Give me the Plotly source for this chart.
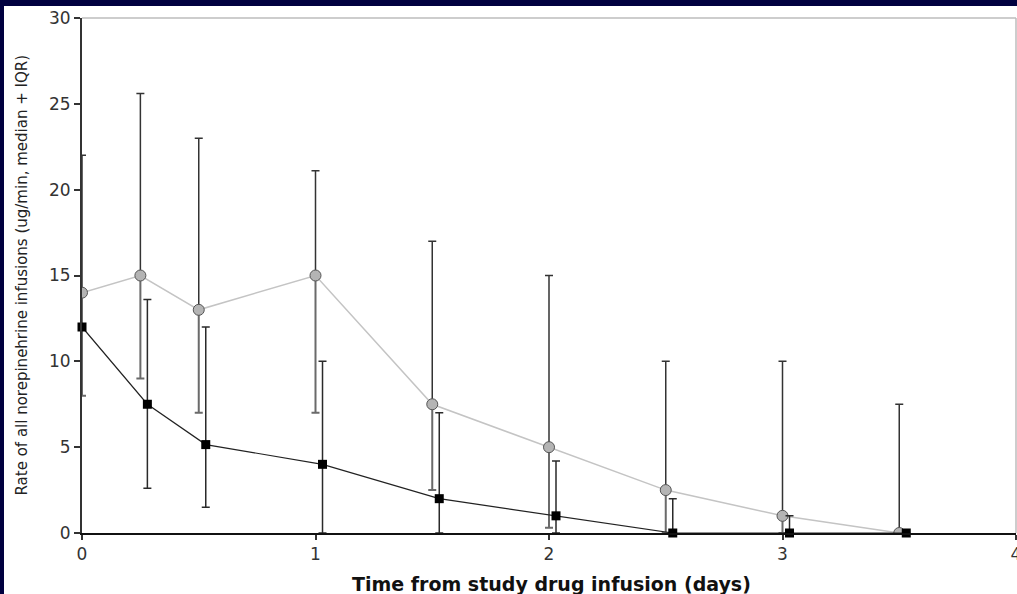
import plotly.graph_objects as go

# Gray circle series (median + IQR)
gray_x = [0, 0.25, 0.5, 1.0, 1.5, 2.0, 2.5, 3.0, 3.5]
gray_y = [14, 15, 13, 15, 7.5, 5, 2.5, 1, 0]
gray_hi = [22, 25.6, 23, 21.1, 17, 15, 10, 10, 7.5]
gray_lo = [8, 9, 7, 7, 2.5, 0.3, 0, 0, 0]

# Black square series (median + IQR)
black_x = [0, 0.28, 0.53, 1.03, 1.53, 2.03, 2.53, 3.03, 3.53]
black_y = [12, 7.5, 5.15, 4, 2, 1, 0, 0, 0]
black_hi = [12, 13.6, 12, 10, 7, 4.2, 2, 1, 0]
black_lo = [12, 2.6, 1.5, 0, 0, 0, 0, 0, 0]

x_ticks = [0, 1, 2, 3, 4]
y_ticks = [0, 5, 10, 15, 20, 25, 30]

x_title = "Time from study drug infusion (days)"
y_title = "Rate of all norepinehrine infusions (ug/min, median + IQR)"

FONT = "DejaVu Sans"
NAVY = "#00003f"

def up(hi, y):
    return [h - v for h, v in zip(hi, y)]

def down(lo, y):
    return [v - l for l, v in zip(lo, y)]

fig = go.Figure()

# gray series lower error bars
fig.add_trace(go.Scatter(
    x=gray_x, y=gray_y, mode="markers", marker=dict(size=1, opacity=0),
    error_y=dict(type="data", symmetric=False, array=[0]*len(gray_y),
                 arrayminus=down(gray_lo, gray_y), color="#6a6a6a",
                 thickness=2, width=4),
    showlegend=False, hoverinfo="skip"))
# gray series upper error bars + line + markers
fig.add_trace(go.Scatter(
    x=gray_x, y=gray_y, mode="lines+markers",
    line=dict(color="#c4c4c4", width=1.5),
    marker=dict(symbol="circle", size=11, color="#b4b4b4",
                line=dict(color="#555555", width=1)),
    error_y=dict(type="data", symmetric=False, array=up(gray_hi, gray_y),
                 arrayminus=[0]*len(gray_y), color="#333333",
                 thickness=1.5, width=4),
    showlegend=False))
# black series
fig.add_trace(go.Scatter(
    x=black_x, y=black_y, mode="lines+markers",
    line=dict(color="#222222", width=1.2),
    marker=dict(symbol="square", size=9, color="#000000"),
    error_y=dict(type="data", symmetric=False, array=up(black_hi, black_y),
                 arrayminus=down(black_lo, black_y), color="#2a2a2a",
                 thickness=1.5, width=4),
    showlegend=False, cliponaxis=False))

# plot area size in px for converting the frame
L, R, T, B = 82, 1, 18, 61
W = 1017 - L - R
H = 594 - T - B

fig.update_layout(
    width=1017, height=594,
    margin=dict(l=L, r=R, t=T, b=B, autoexpand=False),
    paper_bgcolor=NAVY,
    plot_bgcolor="rgba(0,0,0,0)",
    font=dict(family=FONT, color="#333333"),
    xaxis=dict(range=[0, 4], tickvals=x_ticks, ticktext=[str(v) for v in x_ticks],
               showgrid=False, zeroline=False, showline=True, automargin=False,
               linecolor="#111111", linewidth=1.5,
               ticks="outside", ticklen=5, tickwidth=1.5, tickcolor="#333333",
               ticklabeloverflow="allow",
               tickfont=dict(size=17, color="#333333", family=FONT)),
    yaxis=dict(range=[0, 30], tickvals=y_ticks, ticktext=[str(v) for v in y_ticks],
               showgrid=False, zeroline=False, showline=True, automargin=False,
               linecolor="#333333", linewidth=1.8,
               ticks="outside", ticklen=6, tickwidth=1.5, tickcolor="#333333",
               tickfont=dict(size=17, color="#333333", family=FONT)),
    shapes=[
        # white page inside the navy frame
        dict(type="rect", xref="paper", yref="paper", layer="below",
             x0=(4 - L) / W, x1=(1018 - L) / W,
             y0=-(B + 2) / H, y1=1 + (T - 6) / H,
             fillcolor="white", line=dict(width=0)),
        # light plot border on top and right
        dict(type="line", xref="paper", yref="paper", x0=0, x1=1, y0=1, y1=1,
             line=dict(color="#bcbcbc", width=1.5), layer="below"),
        dict(type="line", xref="paper", yref="paper", x0=1, x1=1, y0=0, y1=1,
             line=dict(color="#bcbcbc", width=1.5), layer="below"),
    ],
    annotations=[
        dict(text=x_title, xref="paper", yref="paper",
             x=(551 - L) / W, y=-(584 - (594 - B)) / H,
             xanchor="center", yanchor="middle", showarrow=False,
             font=dict(family=FONT, size=19, color="#111111", weight="bold")),
        dict(text=y_title, xref="paper", yref="paper",
             x=(21 - L) / W, y=0.5, textangle=-90,
             xanchor="center", yanchor="middle", showarrow=False,
             font=dict(family=FONT, size=15, color="#222222")),
    ],
)

fig.write_html(
    "out.html",
    config={"displayModeBar": False},
    post_script="document.body.style.margin='0';document.body.style.overflow='hidden';",
)
